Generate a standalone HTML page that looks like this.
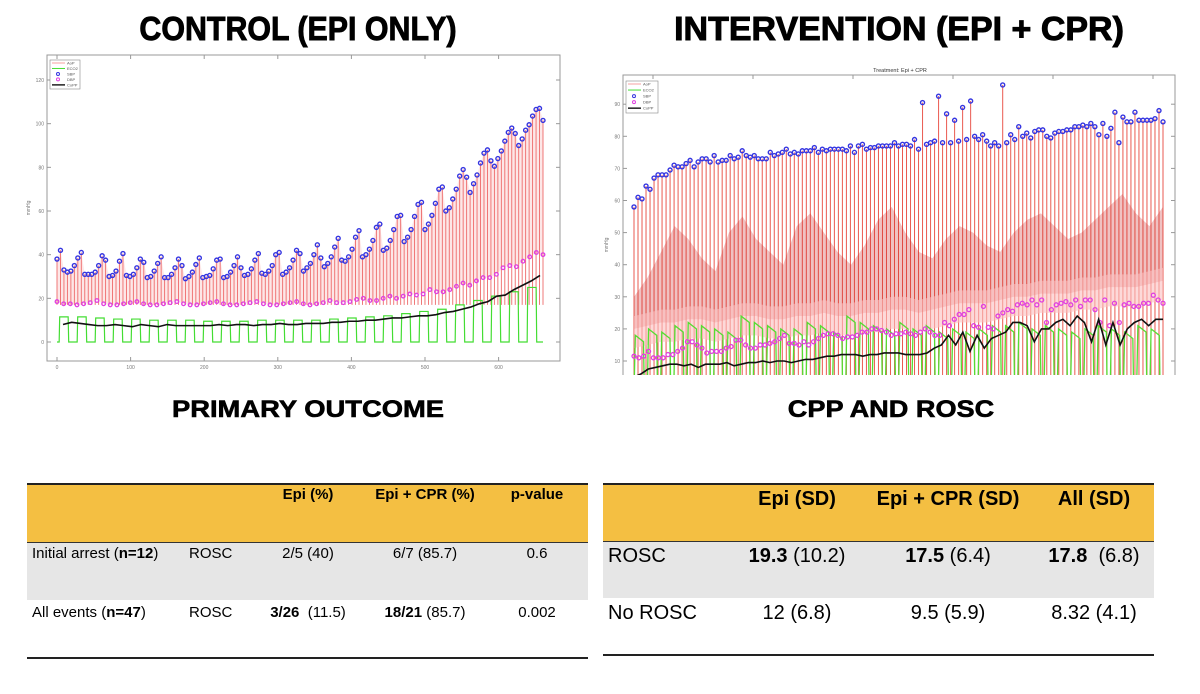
<!DOCTYPE html>
<html><head><meta charset="utf-8">
<style>
body{margin:0;width:1200px;height:694px;background:#fff;position:relative;overflow:hidden;font-family:"Liberation Sans",Arial,sans-serif;}
.t{position:absolute;font-weight:bold;color:#000;white-space:nowrap;-webkit-text-stroke:0.9px #000;}
.abs{position:absolute;white-space:nowrap;}
.c{transform:translateX(-50%);}
</style></head><body>
<div class="t" style="left:297.5px;top:10px;font-size:33px;transform:translateX(-50%) scaleX(0.92);">CONTROL (EPI ONLY)</div>
<div class="t" style="left:898.5px;top:10px;font-size:33px;transform:translateX(-50%) scaleX(1.03);">INTERVENTION (EPI + CPR)</div>
<div class="t" style="left:308px;top:396px;font-size:24px;-webkit-text-stroke:0.6px #000;transform:translateX(-50%) scaleX(1.14);">PRIMARY OUTCOME</div>
<div class="t" style="left:891px;top:396px;font-size:24px;-webkit-text-stroke:0.6px #000;transform:translateX(-50%) scaleX(1.13);">CPP AND ROSC</div>

<svg id="charts" width="1200" height="694" style="position:absolute;left:0;top:0">
<defs>
<clipPath id="clipL"><rect x="47" y="55" width="513" height="306"/></clipPath>
<clipPath id="clipR"><rect x="623" y="75" width="552" height="300"/></clipPath>
</defs>
<g id="left-chart"></g>
<g id="right-chart"></g>
</svg>

<div>
<div class="abs" style="left:27px;top:483px;width:561px;height:59px;background:#f4bf42;border-top:2px solid #222;box-sizing:border-box;"></div>
<div class="abs" style="left:27px;top:542px;width:561px;height:58px;background:#e6e6e6;border-top:1px solid #333;box-sizing:border-box;"></div>
<div class="abs" style="left:27px;top:657px;width:561px;height:2px;background:#222;"></div>
<div class="abs c" style="left:308px;top:486px;font-size:15px;font-weight:bold;">Epi (%)</div>
<div class="abs c" style="left:425px;top:486px;font-size:15px;font-weight:bold;">Epi + CPR (%)</div>
<div class="abs c" style="left:537px;top:486px;font-size:15px;font-weight:bold;">p-value</div>
<div class="abs" style="left:32px;top:545px;font-size:15px;">Initial arrest (<b>n=12</b>)</div>
<div class="abs" style="left:189px;top:545px;font-size:15px;">ROSC</div>
<div class="abs c" style="left:308px;top:545px;font-size:15px;">2/5 (40)</div>
<div class="abs c" style="left:425px;top:545px;font-size:15px;">6/7 (85.7)</div>
<div class="abs c" style="left:537px;top:545px;font-size:15px;">0.6</div>
<div class="abs" style="left:32px;top:604px;font-size:15px;">All events (<b>n=47</b>)</div>
<div class="abs" style="left:189px;top:604px;font-size:15px;">ROSC</div>
<div class="abs c" style="left:308px;top:604px;font-size:15px;"><b>3/26</b>&nbsp; (11.5)</div>
<div class="abs c" style="left:425px;top:604px;font-size:15px;"><b>18/21</b> (85.7)</div>
<div class="abs c" style="left:537px;top:604px;font-size:15px;">0.002</div>
</div>

<div>
<div class="abs" style="left:603px;top:483px;width:551px;height:58px;background:#f4bf42;border-top:2px solid #222;box-sizing:border-box;"></div>
<div class="abs" style="left:603px;top:541px;width:551px;height:57px;background:#e6e6e6;border-top:1px solid #333;box-sizing:border-box;"></div>
<div class="abs" style="left:603px;top:654px;width:551px;height:2px;background:#222;"></div>
<div class="abs c" style="left:797px;top:488px;font-size:20px;font-weight:bold;">Epi (SD)</div>
<div class="abs c" style="left:948px;top:488px;font-size:20px;font-weight:bold;">Epi + CPR (SD)</div>
<div class="abs c" style="left:1094px;top:488px;font-size:20px;font-weight:bold;">All (SD)</div>
<div class="abs" style="left:608px;top:545px;font-size:20px;">ROSC</div>
<div class="abs c" style="left:797px;top:545px;font-size:20px;"><b>19.3</b> (10.2)</div>
<div class="abs c" style="left:948px;top:545px;font-size:20px;"><b>17.5</b> (6.4)</div>
<div class="abs c" style="left:1094px;top:545px;font-size:20px;"><b>17.8</b>&nbsp; (6.8)</div>
<div class="abs" style="left:608px;top:602px;font-size:20px;">No ROSC</div>
<div class="abs c" style="left:797px;top:602px;font-size:20px;">12 (6.8)</div>
<div class="abs c" style="left:948px;top:602px;font-size:20px;">9.5 (5.9)</div>
<div class="abs c" style="left:1094px;top:602px;font-size:20px;">8.32 (4.1)</div>
</div>

<script>
const sbpL = [38,42,33,32,32.5,35,38.5,41,31,31,31,32,35,39.5,37.5,30,30.5,32.5,37,40.5,30.5,30,31,34,38,36.5,29.5,30,32.5,36,39,29.5,29.5,31,34,38,35,29,30,32,35.5,38.5,29.5,30,30.5,33.5,37.5,38,29.5,30,32,35,39,34,30.5,31,33.5,37.5,40.5,31.5,31,32.5,35,40,41,31,32,34,37.5,42,40.5,32.5,34,36,40,44.5,38.5,34.5,36,39,43.5,47.5,37.5,37,39,42.5,48,51,39,40,42.5,46.5,52.5,54,42,43,46.5,51.5,57.5,58,46,48,51.5,57.5,63,64,51.5,54,58,63.5,70,71,60,61.5,65.5,70,76,79,75.5,68.5,72.5,76.5,82,86.5,88,83,80.5,84,87.5,92,96,98,95.5,90,93,97,99.5,103.5,106.5,107,101.5];
const dbpL = [18.5,17.5,17.5,17,17.5,18,19,17.5,17,17,17.5,18,18.5,17.5,17,17,17.5,18,18.5,17.5,17,17,17.5,18,18.5,17.5,17,17,17.5,18,18.5,17.5,17,17,17.5,18,18.5,17.5,17,17.5,18,19,18,18,18.5,19.5,20,19,19,20,21,20,21,22,21.5,22,24,23,23,24,25.5,27,26,28,29.5,29.5,31,34,35,34.5,37,39,41,40];
const coppL = [8,9,8.5,8,7.5,7.5,8,7.5,7,8,7.5,7,8,7.5,7.5,7.5,7.5,7.5,8,7.5,8,8,7.5,8,8,8.5,8,8,8.5,8.5,8.5,9,9,9.5,9.5,10,10,10.5,11,11,11.5,12,12,12.5,13.5,14,15,16,17.5,18.5,21,21.5,24,26,28,30.5];
const eco2L = [11.5,11.5,11,10.5,10.5,10,10,10,9.5,9.5,9.5,10,10,10,10,10.5,11,11.5,12,13,14,15,17,19,21,23,25];
const yTicksL = [0,20,40,60,80,100,120];
const xTicksL = ["0","100","200","300","400","500","600"];

const sbpR = [58,61,60.5,64.5,63.5,67,68,68,68,69.5,71,70.5,70.5,71.5,72.5,70.5,72,73,73,72,74,72,72.5,72.5,74,73,73.5,75.5,74,73.5,74,73,73,73,75,74,74.5,75,76,74.5,75,74.5,75.5,75.5,75.5,76.5,75,76,75.5,76,76,76,76,75.5,77,75,77,77.5,76,76.5,76.5,77,77,77,77,78,77,77.5,77.5,77,79,76,90.5,77.5,78,78.5,92.5,78,87,78,85,78.5,89,79,91,80,79,80.5,78.5,77,78,77,96,78,80.5,79,83,80,81,79.5,81.5,82,82,80,79.5,81,81.5,81.5,82,82,83,83,83.5,83,84,83,80.5,84,80,82.5,87.5,78,86,84.5,84.5,87.5,85,85,85,85,85.5,88,84.5];
const dbpR = [11.5,11,11.5,13,11,11,11,12,12,13,14,16,16,15,14,12.5,13,13,13,14,14.5,16.5,16.5,15,14,14,15,15,15.5,16,17,18,15.5,15.5,15,16,15,16,17,18,18.5,18.5,18,17,17.5,17.5,18,19,19,20,20,19.5,19,18,18.5,18.5,19,18.5,18,19,20,19,18,18,22,21,23,24.5,24.5,26,21,20.5,27,20.5,20,24,25,26,25.5,27.5,28,27.5,29,27.5,29,22,26,27.5,28,28.5,27.5,29,27,29,29,26,22,29,21,28,22,27.5,28,27,27,28,28,30.5,29,28];
const coppR = [5,6,7.5,8,8.5,9,9,8.5,9,8,9,9,9,9.5,8.5,9,9.5,9.5,10,9.5,10,10,9.5,10,10.5,10.5,11,11.5,11.5,12,12,12,11.5,12,12,12.5,12.5,12.5,12,12,12,12.5,14,15,18,15,19,13,18,14,17,18,19,22,22,21,16,20,20,22,23,21,24,22,16,23,15,22,15,20,22,23,21,23,23];
const eco2R = [18,20,19,21,22,21,20,19,24,22,21,20,20,22,21,19,24,22,21,20,22,20,21,19,20,19,20,21,21,22,20,21,20,19,20,21,20,19,21,20];
const aopBandTopR = [30,36,44,52,48,42,38,50,55,48,44,40,52,56,50,44,40,46,54,58,50,44,42,48,52,50,46,44,50,54,56,52,48,50,54,58,62,56,52,58];
const aopBandLowR = [20,21,22,22,23,23,22,23,24,24,23,23,24,24,25,24,24,25,25,26,26,25,26,27,28,28,28,29,30,30,31,31,31,32,32,33,33,33,34,35];
const yTicksR = [10,20,30,40,50,60,70,80,90];

const NS = "http://www.w3.org/2000/svg";
function mk(parent, tag, attrs){const e=document.createElementNS(NS,tag);for(const k in attrs)e.setAttribute(k,attrs[k]);parent.appendChild(e);return e;}

const L = {x0:57,x1:543,top:55,bot:361,left:47,right:560};
const yL = v => 342 - v*(262/120);
const xLi = (i,n) => L.x0 + i/(n-1)*(L.x1-L.x0);
const R = {x0:634,x1:1163,top:75,bot:375,left:623,right:1175};
const yR = v => 361 - (v-10)*3.21;
const xRi = (i,n) => R.x0 + i/(n-1)*(R.x1-R.x0);

(function(){
  const g = document.getElementById('left-chart');
  const frame = mk(g,'rect',{x:L.left,y:L.top,width:L.right-L.left,height:L.bot-L.top,fill:'#fff',stroke:'#999','stroke-width':1});
  
  
  yTicksL.forEach(v=>{
    const y=yL(v);
    mk(g,'line',{x1:L.left,x2:L.left+4,y1:y,y2:y,stroke:'#999'});
    mk(g,'line',{x1:L.right-4,x2:L.right,y1:y,y2:y,stroke:'#999'});
    const t=mk(g,'text',{x:L.left-3,y:y+2,'font-size':5,'text-anchor':'end',fill:'#777'});
    t.textContent=v;
    
    
  });
  xTicksL.forEach((lab,k)=>{
    const x=L.x0+k*73.6;
    mk(g,'line',{x1:x,x2:x,y1:L.bot,y2:L.bot-4,stroke:'#999'});
    mk(g,'line',{x1:x,x2:x,y1:L.top,y2:L.top+4,stroke:'#999'});
    const t=mk(g,'text',{x:x,y:L.bot+8,'font-size':5,'text-anchor':'middle',fill:'#777'});
    t.textContent=lab;
    
    
  });
  const yl=mk(g,'text',{x:30,y:208,'font-size':5,fill:'#777',transform:'rotate(-90 30 208)','text-anchor':'middle'});
  yl.textContent='mmHg';
  
  
  const cg = mk(g,'g',{'clip-path':'url(#clipL)'});
  let pts=[];
  sbpL.forEach((v,i)=>pts.push(xLi(i,sbpL.length)+','+yL(v)));
  for(let i=dbpL.length-1;i>=0;i--) pts.push(xLi(i,dbpL.length)+','+yL(dbpL[i]));
  const band=mk(cg,'polygon',{points:pts.join(' '),fill:'#fbd4d4',opacity:0.55});
  
  
  sbpL.forEach((v,i)=>{
    const x=xLi(i,sbpL.length);
    const l=mk(cg,'line',{x1:x,x2:x,y1:yL(17),y2:yL(v),stroke:'#ee6a6a','stroke-width':0.9});
    
    
  });
  const per=(L.x1-L.x0)/eco2L.length;
  let d='';
  eco2L.forEach((v,i)=>{
    const xs=L.x0+i*per;
    d+=(i===0?'M':'L')+xs+','+yL(0)+' L'+(xs+per*0.12)+','+yL(0)+' L'+(xs+per*0.15)+','+yL(v)+' L'+(xs+per*0.62)+','+yL(v)+' L'+(xs+per*0.65)+','+yL(0)+' L'+(xs+per)+','+yL(0)+' ';
  });
  const eco=mk(cg,'path',{d:d,fill:'none',stroke:'#44dd33','stroke-width':1.2});
  
  
  const cp=mk(cg,'polyline',{points:coppL.map((v,i)=>(63+i/(coppL.length-1)*(540-63))+','+yL(v)).join(' '),fill:'none',stroke:'#111','stroke-width':1.6});
  
  
  dbpL.forEach((v,i)=>{
    const c=mk(cg,'circle',{cx:xLi(i,dbpL.length),cy:yL(v),r:1.8,fill:'none',stroke:'#e040e0','stroke-width':1.3});
    
    
  });
  sbpL.forEach((v,i)=>{
    const c=mk(cg,'circle',{cx:xLi(i,sbpL.length),cy:yL(v),r:2,fill:'none',stroke:'#3535e0','stroke-width':1.4});
    
    
  });
  legend(g,50,60,30,29);
})();

function legend(g,x,y,w,h){
  const lg=mk(g,'g',{});
  
  
  mk(lg,'rect',{x:x,y:y,width:w,height:h,fill:'#fff',stroke:'#888','stroke-width':0.6});
  const names=['AoP','ECO2','SBP','DBP','CoPP'];
  const cols=['#f4a0a0','#44dd33','#3535e0','#e040e0','#111'];
  names.forEach((n,i)=>{
    const yy=y+3+i*h/5.3;
    if(i===2||i===3) mk(lg,'circle',{cx:x+8,cy:yy,r:1.5,fill:'none',stroke:cols[i],'stroke-width':1});
    else mk(lg,'line',{x1:x+2,x2:x+15,y1:yy,y2:yy,stroke:cols[i],'stroke-width':i===4?1.4:1});
    const t=mk(lg,'text',{x:x+17,y:yy+1.5,'font-size':4,fill:'#555'});
    t.textContent=n;
    
    
  });
}

(function(){
  const g = document.getElementById('right-chart');
  const frame=mk(g,'path',{d:`M${R.left},${R.bot} L${R.left},${R.top} L${R.right},${R.top} L${R.right},${R.bot}`,fill:'#fff',stroke:'#999','stroke-width':1});
  
  
  const ti=mk(g,'text',{x:900,y:72,'font-size':5.5,'text-anchor':'middle',fill:'#333'});
  ti.textContent='Treatment: Epi + CPR';
  
  
  yTicksR.forEach(v=>{
    const y=yR(v);
    mk(g,'line',{x1:R.left,x2:R.left+4,y1:y,y2:y,stroke:'#999'});
    mk(g,'line',{x1:R.right-4,x2:R.right,y1:y,y2:y,stroke:'#999'});
    const t=mk(g,'text',{x:R.left-3,y:y+2,'font-size':5,'text-anchor':'end',fill:'#777'});
    t.textContent=v;
    
    
  });
  for(let k=0;k<6;k++){const x=R.left+30+k*100;mk(g,'line',{x1:x,x2:x,y1:R.top,y2:R.top+4,stroke:'#999'});}
  const yl=mk(g,'text',{x:608,y:245,'font-size':5,fill:'#777',transform:'rotate(-90 608 245)','text-anchor':'middle'});
  yl.textContent='mmHg';
  
  
  const cg=mk(g,'g',{'clip-path':'url(#clipR)'});
  sbpR.forEach((v,i)=>{
    const x=xRi(i,sbpR.length);
    const l=mk(cg,'line',{x1:x,x2:x,y1:R.bot,y2:yR(v),stroke:'#ea5a50','stroke-width':1});
    
    
  });
  const nB=aopBandTopR.length;
  let top=aopBandTopR.map((v,i)=>xRi(i,nB)+','+yR(v));
  let low=aopBandLowR.map((v,i)=>xRi(i,nB)+','+yR(v)).reverse();
  const b1=mk(cg,'polygon',{points:top.concat(low).join(' '),fill:'#c82020',opacity:0.28});
  
  
  let low2=aopBandLowR.map((v,i)=>xRi(i,nB)+','+yR(v-6)).reverse();
  const b2=mk(cg,'polygon',{points:aopBandLowR.map((v,i)=>xRi(i,nB)+','+yR(v+4)).concat(low2).join(' '),fill:'#fcc0c0',opacity:0.6});
  
  
  const per=(R.x1-R.x0)/eco2R.length;
  let d='';
  eco2R.forEach((v,i)=>{
    const xs=R.x0+i*per;
    d+=(i===0?'M':'L')+xs+','+yR(0)+' L'+(xs+per*0.1)+','+yR(v)+' L'+(xs+per*0.72)+','+yR(v-2)+' L'+(xs+per*0.78)+','+yR(0)+' L'+(xs+per)+','+yR(0)+' ';
  });
  const eco=mk(cg,'path',{d:d,fill:'none',stroke:'#55dd33','stroke-width':1.3});
  
  
  dbpR.forEach((v,i)=>{
    const c=mk(cg,'circle',{cx:xRi(i,dbpR.length),cy:yR(v),r:2,fill:'none',stroke:'#e040e0','stroke-width':1.3});
    
    
  });
  const cp=mk(cg,'polyline',{points:coppR.map((v,i)=>xRi(i,coppR.length)+','+yR(v)).join(' '),fill:'none',stroke:'#111','stroke-width':1.6});
  
  
  sbpR.forEach((v,i)=>{
    const c=mk(cg,'circle',{cx:xRi(i,sbpR.length),cy:yR(v),r:2,fill:'none',stroke:'#3535e0','stroke-width':1.4});
    
    
  });
  legend(g,626,81,32,32);
})();
</script>
</body></html>
